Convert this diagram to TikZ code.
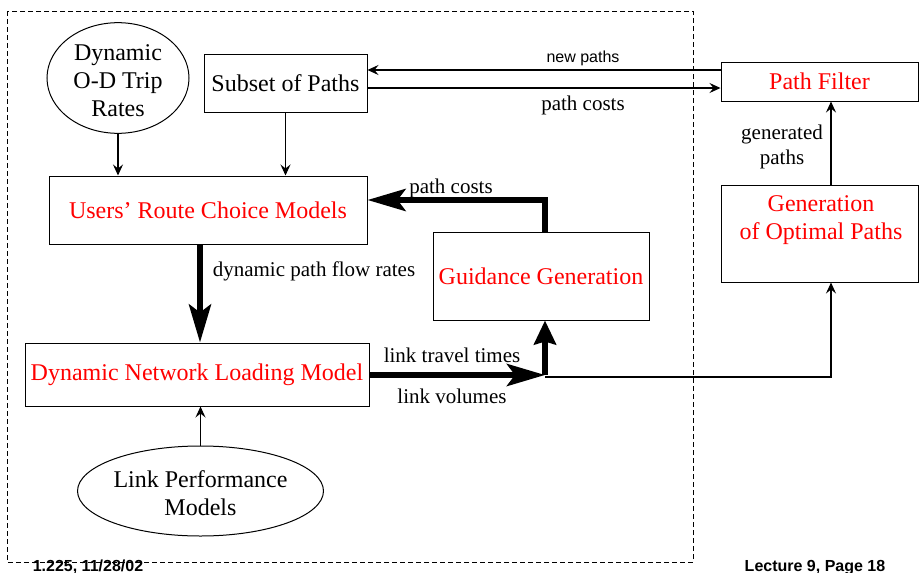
\documentclass[tikz,border=0pt]{standalone}
\usepackage{fontspec}
\setmainfont{Liberation Serif}
\newfontfamily\labsans{Liberation Sans}
\usetikzlibrary{shapes.geometric,arrows.meta}
\begin{document}
\begin{tikzpicture}[x=1pt,y=-1pt,
  box/.style={draw, line width=1pt, inner sep=0pt, align=center},
  oval/.style={ellipse, draw, line width=1pt, inner sep=0pt, align=center},
  big/.style={font=\fontsize{24}{28}\selectfont},
  lab/.style={font=\fontsize{21}{25}\selectfont, inner sep=0pt, align=center},
  sanslab/.style={font=\labsans\fontsize{16}{19}\selectfont, inner sep=0pt},
  foot/.style={font=\labsans\bfseries\fontsize{16}{19}\selectfont, inner sep=0pt, anchor=base},
  conn/.style={line width=1.1pt},
  heavy/.style={line width=6pt},
  tipS/.style={-{Stealth[length=11pt,width=10pt,inset=4pt]}},
  tipL/.style={-{Stealth[length=38pt,width=22pt,inset=8pt]}},
  tipU/.style={-{Stealth[length=24pt,width=22pt,inset=3pt]}}]
\useasboundingbox (0,0) rectangle (919,573);
\draw[dash pattern=on 5pt off 3pt, line width=0.9pt] (7,11) rectangle (693,562);

\node[oval, big, minimum width=142pt, minimum height=92pt] (odt) at (118,78) {\rule{0pt}{22pt}Dynamic\\O-D Trip\\Rates};
\node[box, big, minimum width=163pt, minimum height=58pt] (subset) at (285.5,83) {Subset of Paths};
\node[box, big, text=red, minimum width=318pt, minimum height=68pt] (users) at (208,210) {Users' Route Choice Models};
\node[box, big, text=red, minimum width=344pt, minimum height=63pt] (dnl) at (197,374.5) {Dynamic Network Loading Model};
\node[oval, big, minimum width=241pt, minimum height=90pt] (lp) at (200.5,491) {\rule{0pt}{22pt}Link Performance\\Models};
\node[box, big, text=red, minimum width=216pt, minimum height=88pt] (guide) at (541,276) {Guidance Generation};
\node[box, big, text=red, minimum width=197pt, minimum height=39pt] (pf) at (819.5,81.5) {Path Filter};
\node[box, minimum width=197pt, minimum height=97pt] (gen) at (819.5,233.5) {};
\node[big, text=red, align=center, inner sep=0pt] (genlabel) at (821,220) {Generation\\of Optimal Paths};

\coordinate (j) at (545,375);
\coordinate (jt) at (545,377);
\coordinate (gx) at (831,377);
\coordinate (pc) at (545,200);
\coordinate (cx) at (200,0);
\coordinate (npy) at (0,70);
\coordinate (pcy) at (0,88);

\draw[conn, tipS] (odt.south) -- (odt.south |- users.north);
\draw[conn, tipS] (subset.south) -- (subset.south |- users.north);
\draw[heavy, tipL] (users.south -| cx) -- (dnl.north -| cx);
\draw[conn, tipS] (lp.north) -- (lp.north |- dnl.south);
\draw[conn, tipS] (pf.west |- npy) -- (subset.east |- npy);
\draw[conn, tipS] (subset.east |- pcy) -- (pf.west |- pcy);
\draw[conn, tipS] (gen.north -| gx) -- (pf.south -| gx);
\draw[conn, tipS] (jt) -| (gen.south -| gx);
\draw[heavy, tipL] (dnl.east |- j) -- (j);
\draw[heavy, tipU] (j) -- (j |- guide.south);
\draw[heavy, tipL] (j |- guide.north) |- (users.east |- pc);

\node[lab] (lblPC1) at (583,105) {path costs};
\node[sanslab] (lblNP) at (583,58) {new paths};
\node[lab] (lblPC2) at (451,188) {path costs};
\node[lab] (lblDPF) at (314,271) {dynamic path flow rates};
\node[lab] (lblLTT) at (452,355) {link travel times};
\node[lab] (lblLV) at (452,396) {link volumes};
\node[lab] (lblGP) at (782,147) {generated\\paths};
\node[foot] (f1) at (88,571) {1.225, 11/28/02};
\node[foot] (f2) at (815,571) {Lecture 9, Page 18};
\end{tikzpicture}
\end{document}
